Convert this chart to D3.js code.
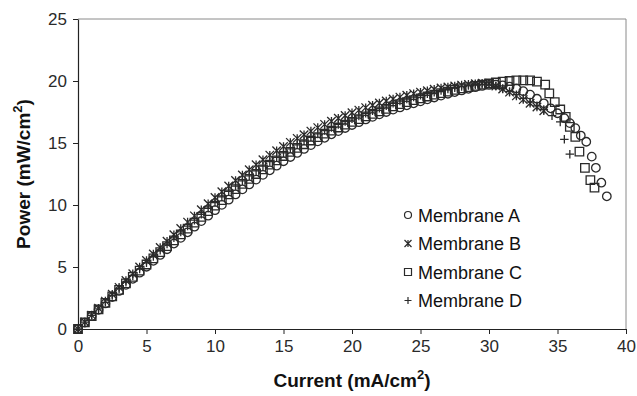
<!DOCTYPE html>
<html>
<head>
<meta charset="utf-8">
<script src="https://cdn.jsdelivr.net/npm/d3@7"></script>
<style>
  body { margin: 0; background: #fff; }
  svg { display: block; font-family: "Liberation Sans", Arial, sans-serif; }
</style>
</head>
<body>
<svg id="chart" width="637" height="396"></svg>
<script>
"use strict";

// current grid shared by the rising part of every curve (mA/cm2)
const currentGrid = [0, 0.5, 1, 1.5, 2, 2.5, 3, 3.5, 4, 4.5, 5, 5.5, 6, 6.5, 7, 7.5, 8, 8.5, 9, 9.5,
  10, 10.5, 11, 11.5, 12, 12.5, 13, 13.5, 14, 14.5, 15, 15.5, 16, 16.5, 17, 17.5, 18, 18.5, 19, 19.5,
  20, 20.5, 21, 21.5, 22, 22.5, 23, 23.5, 24, 24.5, 25, 25.5, 26, 26.5, 27, 27.5, 28, 28.5, 29, 29.5, 30];

const powerA = [0, 0.52, 1.04, 1.55, 2.06, 2.57, 3.07, 3.56, 4.05, 4.54,
  5.02, 5.5, 5.97, 6.43, 6.89, 7.35, 7.8, 8.25, 8.7, 9.14,
  9.58, 10.01, 10.43, 10.85, 11.26, 11.66, 12.05, 12.43, 12.8, 13.17,
  13.53, 13.87, 14.2, 14.52, 14.83, 15.13, 15.42, 15.7, 15.96, 16.21,
  16.45, 16.68, 16.9, 17.11, 17.31, 17.5, 17.69, 17.87, 18.04, 18.2,
  18.36, 18.52, 18.67, 18.82, 18.97, 19.11, 19.24, 19.37, 19.5, 19.6, 19.68];
const tailCurrentA = [30.5, 31, 31.5, 32, 32.5, 33, 33.5, 34, 34.5, 35, 35.5, 35.9, 36.3, 36.7, 37.1, 37.5, 37.8, 38.2, 38.6];
const tailPowerA = [19.7, 19.65, 19.55, 19.4, 19.18, 18.9, 18.57, 18.2, 17.8, 17.4, 17.0, 16.6, 16.2, 15.6, 15.1, 13.9, 13.0, 11.8, 10.7];

const powerB = [0, 0.56, 1.12, 1.68, 2.25, 2.8, 3.36, 3.91, 4.45, 5.0,
  5.53, 6.05, 6.57, 7.08, 7.6, 8.1, 8.62, 9.12, 9.62, 10.1,
  10.6, 11.07, 11.53, 11.98, 12.42, 12.84, 13.25, 13.65, 14.02, 14.38,
  14.72, 15.05, 15.37, 15.67, 15.96, 16.24, 16.5, 16.75, 16.99, 17.22,
  17.44, 17.65, 17.85, 18.04, 18.22, 18.39, 18.55, 18.7, 18.85, 18.98,
  19.1, 19.22, 19.33, 19.43, 19.52, 19.6, 19.67, 19.73, 19.78, 19.82, 19.78];
const tailCurrentB = [30.5, 31, 31.5, 32, 32.5, 33, 33.5, 34];
const tailPowerB = [19.6, 19.35, 19.1, 18.8, 18.5, 18.2, 17.9, 17.6];

const powerC = [0, 0.53, 1.05, 1.58, 2.1, 2.63, 3.15, 3.68, 4.2, 4.7,
  5.2, 5.7, 6.2, 6.68, 7.15, 7.63, 8.1, 8.58, 9.05, 9.5,
  9.95, 10.4, 10.85, 11.28, 11.7, 12.1, 12.5, 12.88, 13.25, 13.6,
  13.95, 14.28, 14.6, 14.9, 15.2, 15.48, 15.75, 16.0, 16.25, 16.48,
  16.7, 16.93, 17.15, 17.35, 17.55, 17.75, 17.95, 18.13, 18.3, 18.45,
  18.6, 18.75, 18.9, 19.03, 19.15, 19.28, 19.4, 19.5, 19.6, 19.7, 19.8];
const tailCurrentC = [30.5, 31, 31.5, 32, 32.5, 33, 33.5, 34.1, 34.4, 34.8, 35.2, 35.6, 35.9, 36.3, 36.6, 37.0, 37.4, 37.7];
const tailPowerC = [19.88, 19.95, 20.0, 20.05, 20.05, 20.05, 19.95, 19.7, 19.0, 18.3, 17.7, 17.1, 16.3, 15.5, 14.3, 13.0, 12.0, 11.4];

const powerD = [0, 0.55, 1.1, 1.63, 2.15, 2.7, 3.25, 3.78, 4.3, 4.83,
  5.35, 5.85, 6.35, 6.85, 7.35, 7.83, 8.3, 8.78, 9.25, 9.73,
  10.2, 10.65, 11.1, 11.53, 11.95, 12.35, 12.75, 13.13, 13.5, 13.85,
  14.2, 14.53, 14.85, 15.15, 15.45, 15.73, 16.0, 16.25, 16.5, 16.73,
  16.95, 17.18, 17.4, 17.6, 17.8, 18.0, 18.2, 18.38, 18.55, 18.7,
  18.85, 18.98, 19.1, 19.23, 19.35, 19.45, 19.55, 19.63, 19.7, 19.73, 19.75];
const tailCurrentD = [30.5, 31, 31.5, 32, 32.5, 33, 33.5, 34, 34.6, 35.2, 35.5, 35.9];
const tailPowerD = [19.6, 19.4, 19.15, 18.9, 18.6, 18.3, 18.0, 17.7, 17.2, 16.7, 15.3, 14.1];

const seriesNames = ["Membrane A", "Membrane B", "Membrane C", "Membrane D"];
const seriesShapes = ["circle", "star", "square", "plus"];
const xTicks = [0, 5, 10, 15, 20, 25, 30, 35, 40];
const yTicks = [0, 5, 10, 15, 20, 25];

const toPoints = (xs, ys) => xs.map((x, i) => ({ x: x, y: ys[i] }));
const series = [
  toPoints(currentGrid, powerA).concat(toPoints(tailCurrentA, tailPowerA)),
  toPoints(currentGrid, powerB).concat(toPoints(tailCurrentB, tailPowerB)),
  toPoints(currentGrid, powerC).concat(toPoints(tailCurrentC, tailPowerC)),
  toPoints(currentGrid, powerD).concat(toPoints(tailCurrentD, tailPowerD))
];

const svg = d3.select("#chart");
const plotLeft = 78, plotRight = 626, plotTop = 19, plotBottom = 329;
const ink = "#2a2a2a";

const xScale = d3.scaleLinear().domain([0, 40]).range([plotLeft, plotRight]);
const yScale = d3.scaleLinear().domain([0, 25]).range([plotBottom, plotTop]);

// plot frame (top and right)
svg.append("path")
  .attr("d", `M${plotLeft},${plotTop}H${plotRight}V${plotBottom}`)
  .attr("fill", "none")
  .attr("stroke", "#8a8a8a")
  .attr("stroke-width", 1);

const xAxis = svg.append("g")
  .attr("transform", `translate(0,${plotBottom})`)
  .call(d3.axisBottom(xScale).tickValues(xTicks).tickSize(5).tickSizeOuter(0).tickPadding(6));
const yAxis = svg.append("g")
  .attr("transform", `translate(${plotLeft},0)`)
  .call(d3.axisLeft(yScale).tickValues(yTicks).tickSize(5).tickSizeOuter(0).tickPadding(6));

[xAxis, yAxis].forEach(g => {
  g.select(".domain").attr("stroke", "#222").attr("stroke-width", 1.2);
  g.selectAll(".tick line").attr("stroke", "#222");
  g.selectAll(".tick text")
    .attr("fill", "#2a2a2a")
    .style("font-size", "17px")
    .style("font-family", "\"Liberation Sans\", Arial, sans-serif");
});

function markerPath(shape, s) {
  const h = s / 2;
  if (shape === "square") return `M${-h},${-h}H${h}V${h}H${-h}Z`;
  if (shape === "plus") return `M${-h},0H${h}M0,${-h}V${h}`;
  return `M${-h},${-h}L${h},${h}M${-h},${h}L${h},${-h}M0,${-h}V${h}`;
}

function drawMarker(g, shape, size) {
  if (shape === "circle") {
    g.append("circle").attr("r", size / 2);
  } else {
    g.append("path").attr("d", markerPath(shape, size));
  }
}

series.forEach((pts, i) => {
  const layer = svg.append("g")
    .attr("fill", "none")
    .attr("stroke", ink)
    .attr("stroke-width", 1.3);
  pts.forEach(p => {
    const g = layer.append("g")
      .attr("transform", `translate(${xScale(p.x)},${yScale(p.y)})`);
    drawMarker(g, seriesShapes[i], 8.5);
  });
});

// legend
const legend = svg.append("g").attr("transform", "translate(408,215)");
seriesNames.forEach((name, i) => {
  const row = legend.append("g").attr("transform", `translate(0,${i * 28.5})`);
  const m = row.append("g").attr("fill", "none").attr("stroke", ink).attr("stroke-width", 1.2);
  drawMarker(m, seriesShapes[i], 7);
  row.append("text")
    .attr("x", 10)
    .attr("y", 6.5)
    .attr("fill", "#111")
    .style("font-size", "18px")
    .text(name);
});

// axis titles
svg.append("text")
  .attr("x", (plotLeft + plotRight) / 2)
  .attr("y", 387)
  .attr("text-anchor", "middle")
  .attr("fill", "#111")
  .style("font-size", "19px")
  .style("font-weight", "bold")
  .html('Current (mA/cm<tspan dy="-8" font-size="13">2</tspan><tspan dy="8">)</tspan>');

svg.append("text")
  .attr("transform", `translate(30,${(plotTop + plotBottom) / 2}) rotate(-90)`)
  .attr("text-anchor", "middle")
  .attr("fill", "#111")
  .style("font-size", "19px")
  .style("font-weight", "bold")
  .html('Power (mW/cm<tspan dy="-8" font-size="13">2</tspan><tspan dy="8">)</tspan>');
</script>
</body>
</html>
